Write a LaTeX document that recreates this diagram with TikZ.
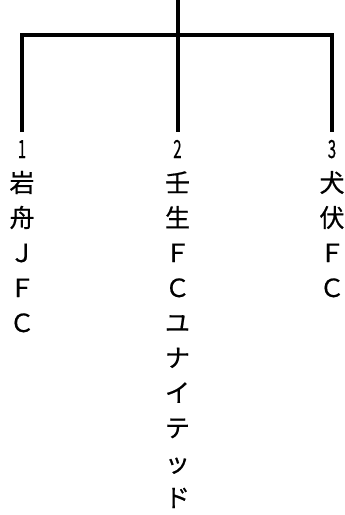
\documentclass[tikz,border=0pt]{standalone}
\usepackage{fontspec}
\newfontfamily\jpfont[FakeBold=0.6]{Noto Sans CJK JP}
\usetikzlibrary{positioning}

\begin{document}
\begin{tikzpicture}[x=1pt,y=1pt,
    bracket/.style={line width=4pt, line join=miter},
    seed/.style={anchor=north, inner sep=0pt, outer sep=0pt, text height=26pt,
        font=\jpfont\fontsize{25}{25}\selectfont},
    team/.style={anchor=base, inner sep=0pt,
        font=\jpfont\fontsize{25}{25}\selectfont},
    ]
\useasboundingbox (0,0) rectangle (345,-515);

\coordinate (top) at (177.5,0);
\coordinate (hub) at (177.5,-35);

\foreach \x [count=\i] in {22,177.5,332}
    \node[seed] (s\i) at (\x,-132) {\scalebox{0.6}[1]{\i}};

% team names, one character per row
\foreach \c [count=\k] in {岩,舟,Ｊ,Ｆ,Ｃ}
    \node[team] (t1-\k) at ([yshift={-34-35*(\k-1)}]s1.base) {\c};
\foreach \c [count=\k] in {壬,生,Ｆ,Ｃ,ユ,ナ,イ,テ,ッ,ド}
    \node[team] (t2-\k) at ([yshift={-34-35*(\k-1)}]s2.base) {\c};
\foreach \c [count=\k] in {犬,伏,Ｆ,Ｃ}
    \node[team] (t3-\k) at ([yshift={-34-35*(\k-1)}]s3.base) {\c};

\draw[bracket] (s1.north) |- (hub) -| (s3.north);
\draw[bracket] (top) -- (s2.north);

\end{tikzpicture}
\end{document}
